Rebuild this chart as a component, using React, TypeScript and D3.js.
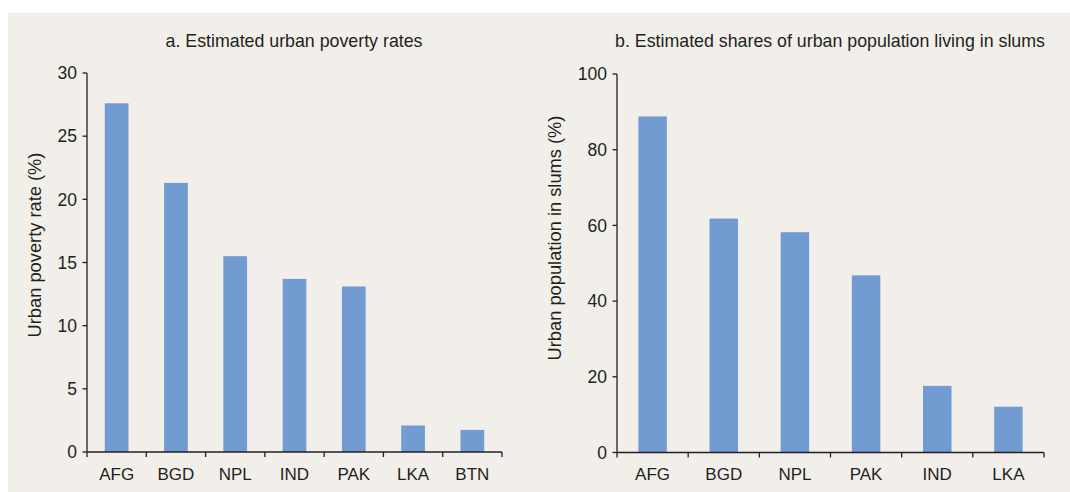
import React from "react";
import * as d3 from "d3";

const povertyCountries = ["AFG", "BGD", "NPL", "IND", "PAK", "LKA", "BTN"];
const povertyRates = [27.6, 21.3, 15.5, 13.7, 13.1, 2.1, 1.75];
const povertyTicks = [0, 5, 10, 15, 20, 25, 30];

const slumCountries = ["AFG", "BGD", "NPL", "PAK", "IND", "LKA"];
const slumShares = [88.8, 61.8, 58.2, 46.8, 17.6, 12.1];
const slumTicks = [0, 20, 40, 60, 80, 100];

const FONT = "'Liberation Sans Narrow', 'Liberation Sans', Arial, sans-serif";
const INK = "#231f20";
const BAR = "#729bd2";

function Panel({ title, yLabel, cats, vals, ticks, yMax, left, right, top, bottom, titleX, labelX, labelY }) {
  const x = d3.scaleBand().domain(cats).range([left, right]).paddingInner(0.6).paddingOuter(0.3);
  const y = d3.scaleLinear().domain([0, yMax]).range([bottom, top]);
  const step = (right - left) / cats.length;
  const bounds = d3.range(cats.length + 1).map((i) => left + i * step);
  return (
    <g>
      <text x={titleX} y={47} textAnchor="middle" fontSize={17.8} fill={INK}>
        {title}
      </text>
      <text
        transform={`translate(${labelX},${labelY}) rotate(-90)`}
        textAnchor="middle"
        fontSize={18.3}
        fill={INK}
      >
        {yLabel}
      </text>
      {cats.map((c, i) => (
        <rect key={c} x={x(c)} y={y(vals[i])} width={x.bandwidth()} height={bottom - y(vals[i])} fill={BAR} />
      ))}
      <line x1={left} x2={left} y1={top} y2={bottom} stroke={INK} strokeWidth={1.3} />
      <line x1={left} x2={right} y1={bottom} y2={bottom} stroke={INK} strokeWidth={1.3} />
      {ticks.map((t) => (
        <g key={t}>
          <line x1={left - 4.5} x2={left} y1={y(t)} y2={y(t)} stroke={INK} strokeWidth={1.3} />
          <text x={left - 10} y={y(t)} dy="0.36em" textAnchor="end" fontSize={17.5} fill={INK}>
            {t}
          </text>
        </g>
      ))}
      {bounds.map((b, i) => (
        <line key={i} x1={b} x2={b} y1={bottom} y2={bottom + 5} stroke={INK} strokeWidth={1.3} />
      ))}
      {cats.map((c) => (
        <text key={c} x={x(c) + x.bandwidth() / 2} y={480} textAnchor="middle" fontSize={17} fill={INK}>
          {c}
        </text>
      ))}
    </g>
  );
}

export default function App() {
  return (
    <svg
      width={1070}
      height={492}
      style={{ position: "absolute", left: 0, top: 0, display: "block" }}
      fontFamily={FONT}
    >
      <rect x={0} y={0} width={1070} height={492} fill="#ffffff" />
      <rect x={8} y={13} width={1062} height={479} fill="#f2efea" />
      <Panel
        title="a. Estimated urban poverty rates"
        yLabel="Urban poverty rate (%)"
        cats={povertyCountries}
        vals={povertyRates}
        ticks={povertyTicks}
        yMax={30}
        left={87}
        right={502}
        top={73}
        bottom={452}
        titleX={294}
        labelX={41}
        labelY={245}
      />
      <Panel
        title="b. Estimated shares of urban population living in slums"
        yLabel="Urban population in slums (%)"
        cats={slumCountries}
        vals={slumShares}
        ticks={slumTicks}
        yMax={100}
        left={617}
        right={1044}
        top={74}
        bottom={452.5}
        titleX={830}
        labelX={561}
        labelY={238}
      />
    </svg>
  );
}
